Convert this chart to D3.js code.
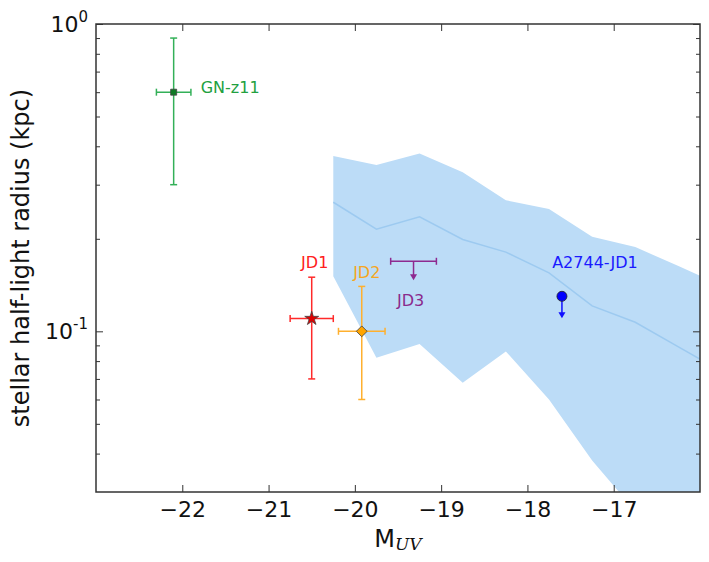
<!DOCTYPE html>
<html>
<head>
<meta charset="utf-8">
<script src="https://cdn.jsdelivr.net/npm/d3@7"></script>
<style>
  body { margin: 0; background: #fff; }
  text { font-family: "DejaVu Sans", sans-serif; }
</style>
</head>
<body>
<div id="chart"></div>
<script>
// model band (simulated galaxies), M_UV vs radius in kpc
var bandM      = [-20.25, -19.75, -19.25, -18.75, -18.25, -17.75, -17.25, -16.75, -16.25, -15.75];
var bandUpper  = [0.372, 0.348, 0.379, 0.329, 0.267, 0.250, 0.203, 0.188, 0.163, 0.141];
var bandMedian = [0.263, 0.215, 0.236, 0.199, 0.181, 0.155, 0.121, 0.107, 0.089, 0.074];
var bandLower  = [0.151, 0.082, 0.091, 0.068, 0.086, 0.060, 0.038, 0.026, 0.020, 0.020];

// measured galaxies
var galNames = ["GN-z11", "JD1", "JD2"];
var galM     = [-22.1, -20.5, -19.92];
var galMerr  = [0.2, 0.25, 0.27];
var galR     = [0.60, 0.11, 0.100];
var galRlo   = [0.30, 0.070, 0.060];
var galRhi   = [0.90, 0.150, 0.140];

// upper limits
var limNames = ["JD3", "A2744-JD1"];
var limM     = [-19.32, -17.6];
var limMerr  = [0.265, 0];
var limR     = [0.169, 0.130];

var xTicks = [-22, -21, -20, -19, -18, -17];
var yMajor = [0.1, 1];
var yMinor = [0.04, 0.05, 0.06, 0.07, 0.08, 0.09, 0.2, 0.3, 0.4, 0.5, 0.6, 0.7, 0.8, 0.9];

var width = 709, height = 562;
var margin = {top: 24, right: 9, bottom: 70, left: 96};
var w = width - margin.left - margin.right;
var h = height - margin.top - margin.bottom;

var x = d3.scaleLinear().domain([-23, -16]).range([0, w]);
var y = d3.scaleLog().domain([0.03, 1]).range([h, 0]);

var svg = d3.select("#chart").append("svg")
  .attr("width", width)
  .attr("height", height);

svg.append("defs").append("clipPath").attr("id", "clip")
  .append("rect").attr("width", w).attr("height", h);

var g = svg.append("g")
  .attr("transform", "translate(" + margin.left + "," + margin.top + ")");

var plot = g.append("g").attr("clip-path", "url(#clip)");

//band
var bandData = bandM.map(function(m, i) {
  return {m: m, lo: bandLower[i], hi: bandUpper[i], med: bandMedian[i]};
});

plot.append("path")
  .datum(bandData)
  .attr("fill", "#bcdcf7")
  .attr("d", d3.area()
    .x(function(d) { return x(d.m); })
    .y0(function(d) { return y(d.lo); })
    .y1(function(d) { return y(d.hi); }));

plot.append("path")
  .datum(bandData)
  .attr("fill", "none")
  .attr("stroke", "#9dcaf0")
  .attr("stroke-width", 1.5)
  .attr("d", d3.line()
    .x(function(d) { return x(d.m); })
    .y(function(d) { return y(d.med); }));

var galColors  = ["#33b058", "#ff2a2a", "#ffb02e"];
var galText    = ["#22a040", "#ff2020", "#f5a623"];
var galFill    = ["#0f7a25", "#e00000", "#ffa500"];
var limColors  = ["#8e2a90", "#1010ff"];
var cap = 3.5;

//error bars for measured points
galNames.forEach(function(name, i) {
  var cx = x(galM[i]), cy = y(galR[i]);
  var eb = plot.append("g").attr("stroke", galColors[i]).attr("stroke-width", 1.5);
  var x0 = x(galM[i] - galMerr[i]), x1 = x(galM[i] + galMerr[i]);
  var y0 = y(galRlo[i]), y1 = y(galRhi[i]);
  eb.append("line").attr("x1", cx).attr("x2", cx).attr("y1", y0).attr("y2", y1);
  eb.append("line").attr("x1", x0).attr("x2", x1).attr("y1", cy).attr("y2", cy);
  eb.append("line").attr("x1", cx - cap).attr("x2", cx + cap).attr("y1", y0).attr("y2", y0);
  eb.append("line").attr("x1", cx - cap).attr("x2", cx + cap).attr("y1", y1).attr("y2", y1);
  eb.append("line").attr("x1", x0).attr("x2", x0).attr("y1", cy - cap).attr("y2", cy + cap);
  eb.append("line").attr("x1", x1).attr("x2", x1).attr("y1", cy - cap).attr("y2", cy + cap);
});

// markers
var symbols = [d3.symbol().type(d3.symbolSquare).size(36),
               d3.symbol().type(d3.symbolStar).size(60),
               d3.symbol().type(d3.symbolSquare).size(58)];
var rotations = [0, 0, 45];
galNames.forEach(function(name, i) {
  plot.append("path")
    .attr("d", symbols[i]())
    .attr("transform", "translate(" + x(galM[i]) + "," + y(galR[i]) + ") rotate(" + rotations[i] + ")")
    .attr("fill", galFill[i])
    .attr("stroke", "#444")
    .attr("stroke-width", 0.8);
});

//upper limits
limNames.forEach(function(name, i) {
  var cx = x(limM[i]), cy = y(limR[i]);
  var lg = plot.append("g").attr("stroke", limColors[i]).attr("stroke-width", 1.5);
  if (limMerr[i] > 0) {
    var x0 = x(limM[i] - limMerr[i]), x1 = x(limM[i] + limMerr[i]);
    lg.append("line").attr("x1", x0).attr("x2", x1).attr("y1", cy).attr("y2", cy);
    lg.append("line").attr("x1", x0).attr("x2", x0).attr("y1", cy - cap).attr("y2", cy + cap);
    lg.append("line").attr("x1", x1).attr("x2", x1).attr("y1", cy - cap).attr("y2", cy + cap);
  }
  var len = i == 0 ? 19 : 22;
  lg.append("line").attr("x1", cx).attr("x2", cx).attr("y1", cy).attr("y2", cy + len - 5);
  plot.append("path")
    .attr("d", "M" + (cx - 3.5) + "," + (cy + len - 6) + "L" + (cx + 3.5) + "," + (cy + len - 6) + "L" + cx + "," + (cy + len) + "Z")
    .attr("fill", limColors[i]);
  if (i == 1) {
    plot.append("circle")
      .attr("cx", cx).attr("cy", cy).attr("r", 5)
      .attr("fill", "#0000ff")
      .attr("stroke", "#222")
      .attr("stroke-width", 0.8);
  }
});

// labels
var galLabelPos = [{dx: 27, dy: 1, anchor: "start"},
                   {dx: 3, dy: -51, anchor: "middle"},
                   {dx: 5, dy: -53, anchor: "middle"}];
galNames.forEach(function(name, i) {
  g.append("text")
    .attr("x", x(galM[i]) + galLabelPos[i].dx)
    .attr("y", y(galR[i]) + galLabelPos[i].dy)
    .attr("text-anchor", galLabelPos[i].anchor)
    .attr("font-size", 16)
    .attr("fill", galText[i])
    .text(name);
});
var limLabelPos = [{dx: -3, dy: 45}, {dx: 33, dy: -28}];
var limText = ["#8a2a8c", "#1a1aff"];
limNames.forEach(function(name, i) {
  g.append("text")
    .attr("x", x(limM[i]) + limLabelPos[i].dx)
    .attr("y", y(limR[i]) + limLabelPos[i].dy)
    .attr("text-anchor", "middle")
    .attr("font-size", 16)
    .attr("fill", limText[i])
    .text(name);
});

//axes - ticks pointing inward on all four sides
var axisColor = "#333";
function styleAxis(sel) {
  sel.select(".domain").remove();
  sel.selectAll("line").attr("stroke", axisColor).attr("stroke-width", 1);
  sel.selectAll("text").attr("font-size", 22).attr("fill", "#111")
    .style("font-family", "'DejaVu Sans', sans-serif");
}

g.append("g").attr("transform", "translate(0," + h + ")")
  .call(d3.axisBottom(x).tickValues(xTicks).tickSize(-7).tickPadding(9).tickFormat(d3.format("d")))
  .call(styleAxis);
g.append("g")
  .call(d3.axisTop(x).tickValues(xTicks).tickSize(-7).tickFormat(""))
  .call(styleAxis);

g.append("g")
  .call(d3.axisLeft(y).tickValues(yMajor).tickSize(-7).tickFormat(""))
  .call(styleAxis);
g.append("g")
  .call(d3.axisLeft(y).tickValues(yMinor).tickSize(-4).tickFormat(""))
  .call(styleAxis);
g.append("g").attr("transform", "translate(" + w + ",0)")
  .call(d3.axisRight(y).tickValues(yMajor).tickSize(-7).tickFormat(""))
  .call(styleAxis);
g.append("g").attr("transform", "translate(" + w + ",0)")
  .call(d3.axisRight(y).tickValues(yMinor).tickSize(-4).tickFormat(""))
  .call(styleAxis);

// y tick labels as powers of ten
yMajor.forEach(function(v) {
  var t = g.append("text")
    .attr("x", -8)
    .attr("y", y(v) + 8)
    .attr("text-anchor", "end")
    .attr("font-size", 22)
    .attr("fill", "#111");
  t.append("tspan").text("10");
  t.append("tspan").attr("dy", -10).attr("font-size", 15).text(String(Math.round(Math.log10(v))));
});

// frame
g.append("rect")
  .attr("width", w).attr("height", h)
  .attr("fill", "none")
  .attr("stroke", axisColor)
  .attr("stroke-width", 1.5);

// axis labels
var xl = g.append("text")
  .attr("x", w / 2)
  .attr("y", h + 55)
  .attr("text-anchor", "middle")
  .attr("font-size", 24)
  .attr("fill", "#111");
xl.append("tspan").text("M");
xl.append("tspan")
  .attr("dy", 3)
  .attr("font-size", 17)
  .attr("font-style", "italic")
  .style("font-family", "'DejaVu Serif', serif")
  .text("UV");

g.append("text")
  .attr("transform", "translate(" + (-67) + "," + (h / 2) + ") rotate(-90)")
  .attr("text-anchor", "middle")
  .attr("font-size", 24)
  .attr("fill", "#111")
  .text("stellar half-light radius (kpc)");
</script>
</body>
</html>
